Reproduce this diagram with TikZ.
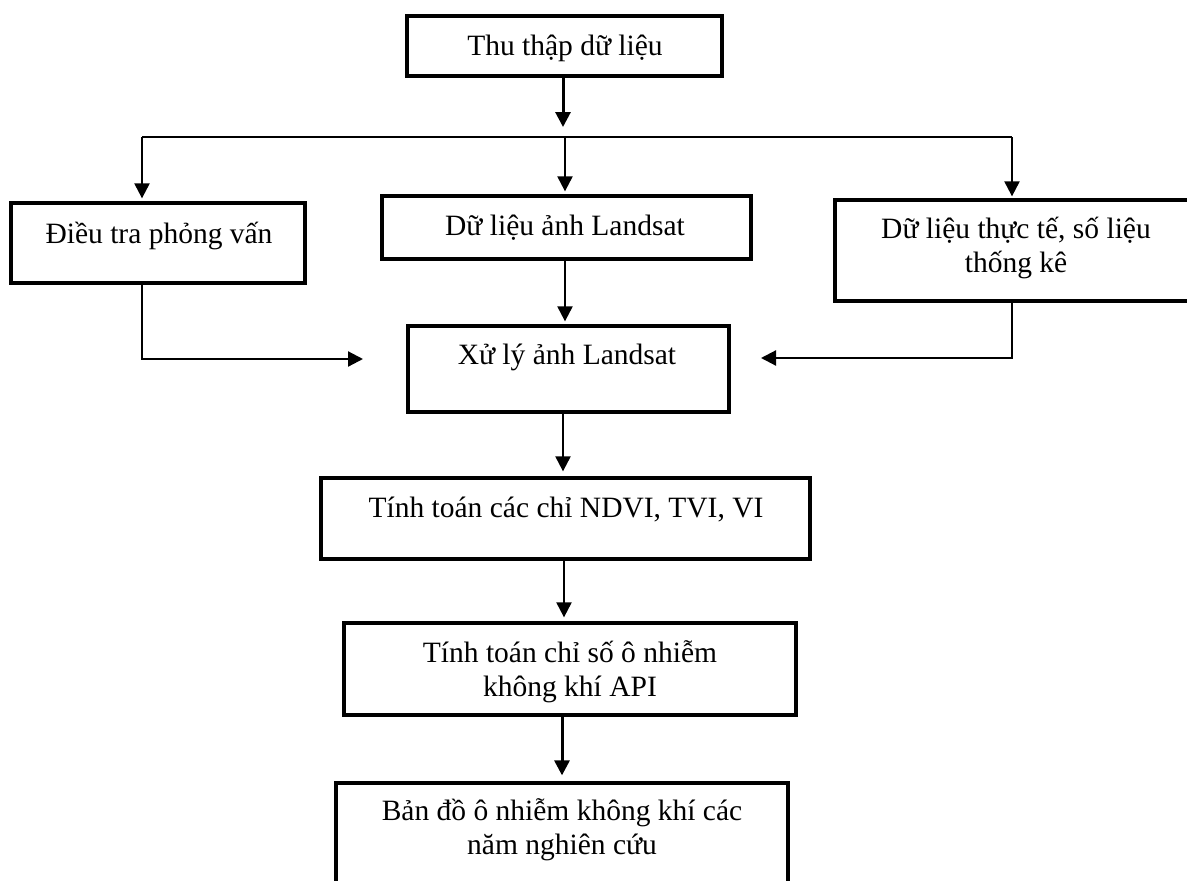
\documentclass[tikz,border=0pt]{standalone}
\usepackage{fontspec}
\setmainfont{Liberation Serif}
\usetikzlibrary{arrows.meta,calc}
\begin{document}
\begin{tikzpicture}[x=1pt,y=-1pt,
  box/.style={draw=black, line width=3.3pt, rectangle, inner sep=0pt, fill=none},
  txt/.style={inner sep=0pt, align=center, font=\fontsize{29.5}{34}\selectfont},
  conn/.style={line width=2.2pt, -{Triangle[width=15pt,length=15pt]}},
  thickconn/.style={line width=3pt, -{Triangle[width=15pt,length=15pt]}},
  plainline/.style={line width=2.2pt}]
\useasboundingbox (0,0) rectangle (1187,881);
\clip (0,0) rectangle (1187,881);
% boxes
\node[box, minimum width=315pt, minimum height=60pt] (b1) at (564.5,46) {};
\node[box, minimum width=294pt, minimum height=80pt] (b2) at (158,243) {};
\node[box, minimum width=369pt, minimum height=63pt] (b3) at (566.5,227.5) {};
\node[box, minimum width=365pt, minimum height=101pt] (b4) at (1017.5,250.5) {};
\node[box, minimum width=321pt, minimum height=86pt] (b5) at (568.5,369) {};
\node[box, minimum width=489pt, minimum height=81pt] (b6) at (565.5,518.5) {};
\node[box, minimum width=452pt, minimum height=92pt] (b7) at (570,669) {};
\node[box, minimum width=452pt, minimum height=117pt] (b8) at (562,841.5) {};
% texts (anchor=base is the last line's baseline)
\node[txt, anchor=base] (t1) at (565,55) {Thu thập dữ liệu};
\node[txt, anchor=base] (t2) at (159,243) {Điều tra phỏng vấn};
\node[txt, anchor=base] (t3) at (565,235) {Dữ liệu ảnh Landsat};
\node[txt, anchor=base] (t4) at (1016,272) {Dữ liệu thực tế, số liệu\\thống kê};
\node[txt, anchor=base] (t5) at (567,364) {Xử lý ảnh Landsat};
\node[txt, anchor=base] (t6) at (566,517) {Tính toán các chỉ NDVI, TVI, VI};
\node[txt, anchor=base] (t7) at (570,696) {Tính toán chỉ số ô nhiễm\\không khí API};
\node[txt, anchor=base] (t8) at (562,854) {Bản đồ ô nhiễm không khí các\\năm nghiên cứu};
% junction coordinates
\coordinate (j1) at (563,127);
\coordinate (hL) at (142,137);
\coordinate (hM) at (565,137);
\coordinate (hR) at (1012,137);
\coordinate (eL) at (363,359);
\coordinate (eR) at (761,358);
% connectors
\draw[thickconn] (b1.south -| j1) -- (j1);
\draw[plainline] (hL) -- (hR);
\draw[conn, shorten >=3pt] (hL) -- (hL |- b2.north);
\draw[conn, shorten >=3pt] (hM) -- (hM |- b3.north);
\draw[conn, shorten >=2pt] (hR) -- (hR |- b4.north);
\draw[conn] (b2.south -| hL) |- (eL);
\draw[conn] (b4.south -| hR) |- (eR);
\draw[conn, shorten >=3pt] (b3.south -| hM) -- (hM |- b5.north);
\draw[conn, shorten >=5pt] (b5.south -| j1) -- (j1 |- b6.north);
\draw[conn, shorten >=4pt] ($(b6.south)+(-1.5,0)$) -- ($(b7.north)+(-6,0)$);
\draw[thickconn, shorten >=6pt] ($(b7.south)+(-8,0)$) -- (b8.north);
\end{tikzpicture}
\end{document}
